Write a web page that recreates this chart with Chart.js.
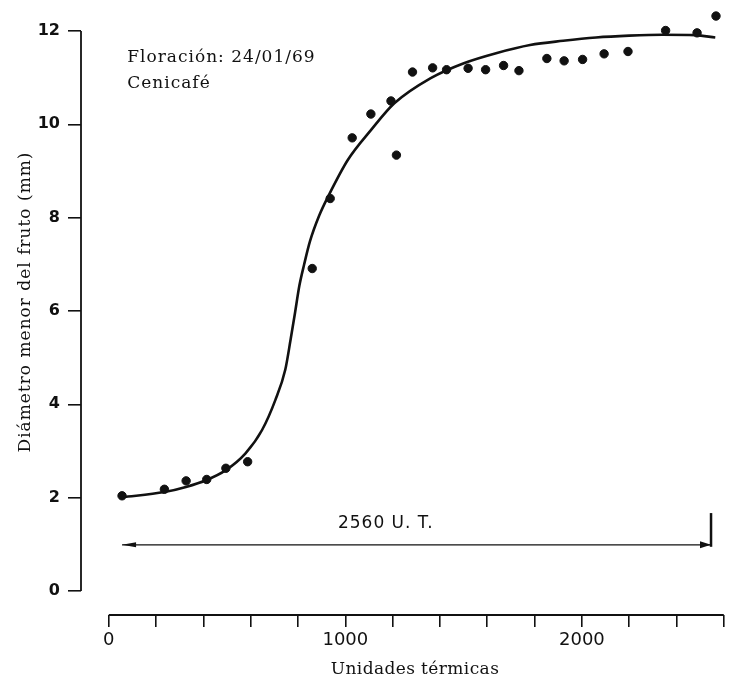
<!DOCTYPE html>
<html>
<head>
<meta charset="utf-8">
<script src="https://cdn.jsdelivr.net/npm/chart.js@4/dist/chart.umd.min.js"></script>
<style>
  html, body { margin: 0; padding: 0; background: #fff; overflow: hidden; }
  #wrap { width: 729px; height: 687px; }
</style>
</head>
<body>
<div id="wrap"><canvas id="growth-chart"></canvas></div>
<script>
// observed fruit diameters (heat units, mm)
const pointX = [56, 235, 327, 414, 495, 587, 860, 936, 1029, 1108, 1193, 1216,
    1284, 1369, 1428, 1519, 1593, 1669, 1734, 1852, 1925, 2003, 2094, 2195, 2354, 2487, 2567];
const pointY = [2.04, 2.18, 2.36, 2.39, 2.63, 2.77, 6.91, 8.41, 9.71, 10.22, 10.50, 9.34,
    11.12, 11.21, 11.17, 11.20, 11.17, 11.26, 11.15, 11.41, 11.36, 11.39, 11.51, 11.56, 12.01, 11.96, 12.32];

// fitted curve
const curveX = [56, 235, 326, 414, 495, 578, 648, 704, 746, 769, 786, 806, 826, 851,
    890, 927, 1011, 1109, 1207, 1361, 1501, 1641, 1781, 1921, 2060, 2200, 2340, 2480, 2564];
const curveY = [2.01, 2.12, 2.23, 2.38, 2.59, 2.95, 3.45, 4.09, 4.74, 5.40, 5.92, 6.55, 7.00, 7.50,
    8.05, 8.45, 9.24, 9.88, 10.45, 10.99, 11.31, 11.53, 11.70, 11.79, 11.86, 11.90, 11.92, 11.91, 11.86];

const xTickValues = [0, 200, 400, 600, 800, 1000, 1200, 1400, 1600, 1800, 2000, 2200, 2400, 2600];
const xTickLabels = [0, 1000, 2000];
const yTickValues = [0, 2, 4, 6, 8, 10, 12];

const xTitle = 'Unidades térmicas';
const yTitle = 'Diámetro menor del fruto (mm)';
const noteLines = ['Floración: 24/01/69', 'Cenicafé'];
const spanLabel = '2560 U. T.';
const spanFrom = 56;
const spanTo = 2546;

const ink = '#111';

const extras = {
    id: 'extras',
    afterDraw(chart) {
        const ctx = chart.ctx;
        const xs = chart.scales.x;
        const ys = chart.scales.y;
        const area = chart.chartArea;
        ctx.save();
        ctx.strokeStyle = ink;
        ctx.fillStyle = ink;

        // axis lines
        ctx.lineWidth = 1.8;
        ctx.beginPath();
        ctx.moveTo(area.left, ys.getPixelForValue(12));
        ctx.lineTo(area.left, ys.getPixelForValue(0));
        ctx.stroke();
        ctx.beginPath();
        ctx.moveTo(xs.getPixelForValue(0), area.bottom);
        ctx.lineTo(xs.getPixelForValue(2600), area.bottom);
        ctx.stroke();

        // notes
        ctx.font = '17px "DejaVu Serif"';
        ctx.letterSpacing = '1px';
        ctx.textAlign = 'left';
        ctx.textBaseline = 'alphabetic';
        ctx.fillText(noteLines[0], xs.getPixelForValue(78), ys.getPixelForValue(11.33));
        ctx.fillText(noteLines[1], xs.getPixelForValue(78), ys.getPixelForValue(10.78));

        // span arrow
        const ay = ys.getPixelForValue(0.99);
        const a0 = xs.getPixelForValue(spanFrom);
        const a1 = xs.getPixelForValue(spanTo);
        ctx.lineWidth = 1.3;
        ctx.beginPath();
        ctx.moveTo(a0, ay);
        ctx.lineTo(a1, ay);
        ctx.stroke();
        ctx.beginPath();
        ctx.moveTo(a0, ay);
        ctx.lineTo(a0 + 14, ay - 2.5);
        ctx.lineTo(a0 + 14, ay + 2.5);
        ctx.closePath();
        ctx.fill();
        ctx.beginPath();
        ctx.moveTo(a1, ay);
        ctx.lineTo(a1 - 11, ay - 3.5);
        ctx.lineTo(a1 - 11, ay + 3.5);
        ctx.closePath();
        ctx.fill();
        ctx.lineWidth = 2.5;
        ctx.beginPath();
        ctx.moveTo(a1, ay + 2);
        ctx.lineTo(a1, ys.getPixelForValue(1.67));
        ctx.stroke();

        ctx.font = '17px "DejaVu Sans"';
        ctx.letterSpacing = '1px';
        ctx.textAlign = 'center';
        ctx.fillText(spanLabel, xs.getPixelForValue(1171), ys.getPixelForValue(1.35));

        // axis titles
        ctx.font = '17px "DejaVu Serif"';
        ctx.letterSpacing = '0.4px';
        ctx.textBaseline = 'middle';
        ctx.fillText(xTitle, 415, 670);
        ctx.letterSpacing = '1px';
        ctx.translate(26, 302);
        ctx.rotate(-Math.PI / 2);
        ctx.fillText(yTitle, 0, 0);
        ctx.restore();
    }
};

new Chart(document.getElementById('growth-chart'), {
    type: 'scatter',
    data: {
        datasets: [
            {
                label: 'Observado',
                data: pointX.map((x, i) => ({x: x, y: pointY[i]})),
                backgroundColor: ink,
                borderColor: ink,
                pointRadius: 4.2,
                pointHoverRadius: 4.2,
                showLine: false,
                clip: false
            },
            {
                label: 'Curva',
                data: curveX.map((x, i) => ({x: x, y: curveY[i]})),
                borderColor: ink,
                borderWidth: 2.6,
                pointRadius: 0,
                showLine: true,
                cubicInterpolationMode: 'monotone',
                clip: false
            }
        ]
    },
    options: {
        responsive: true,
        maintainAspectRatio: false,
        animation: false,
        layout: {
            padding: {top: 12.3, right: 2, bottom: 0, left: 0}
        },
        plugins: {
            legend: {display: false},
            tooltip: {enabled: false}
        },
        scales: {
            x: {
                type: 'linear',
                min: -117.5,
                max: 2600,
                afterBuildTicks: (scale) => {
                    scale.ticks = xTickValues.map(v => ({value: v}));
                },
                afterFit: (scale) => {
                    scale.height = 72;
                    scale.paddingLeft = 0;
                    scale.paddingRight = 0;
                },
                border: {display: false},
                grid: {
                    drawOnChartArea: false,
                    drawTicks: true,
                    tickLength: 12,
                    color: ink,
                    lineWidth: 1.6
                },
                ticks: {
                    autoSkip: false,
                    maxRotation: 0,
                    padding: 3,
                    color: ink,
                    font: {family: '"DejaVu Sans"', size: 18},
                    callback: (v) => xTickLabels.includes(v) ? String(v) : ''
                }
            },
            y: {
                type: 'linear',
                min: -0.514,
                max: 12.4,
                afterBuildTicks: (scale) => {
                    scale.ticks = yTickValues.map(v => ({value: v}));
                },
                afterFit: (scale) => {
                    scale.width = 81;
                    scale.paddingTop = 0;
                    scale.paddingBottom = 0;
                },
                border: {display: false},
                grid: {
                    drawOnChartArea: false,
                    drawTicks: true,
                    tickLength: 13,
                    color: ink,
                    lineWidth: 1.6
                },
                ticks: {
                    padding: 8,
                    color: ink,
                    font: {family: '"DejaVu Sans"', size: 16, weight: 'bold'}
                }
            }
        }
    },
    plugins: [extras]
});
</script>
</body>
</html>
